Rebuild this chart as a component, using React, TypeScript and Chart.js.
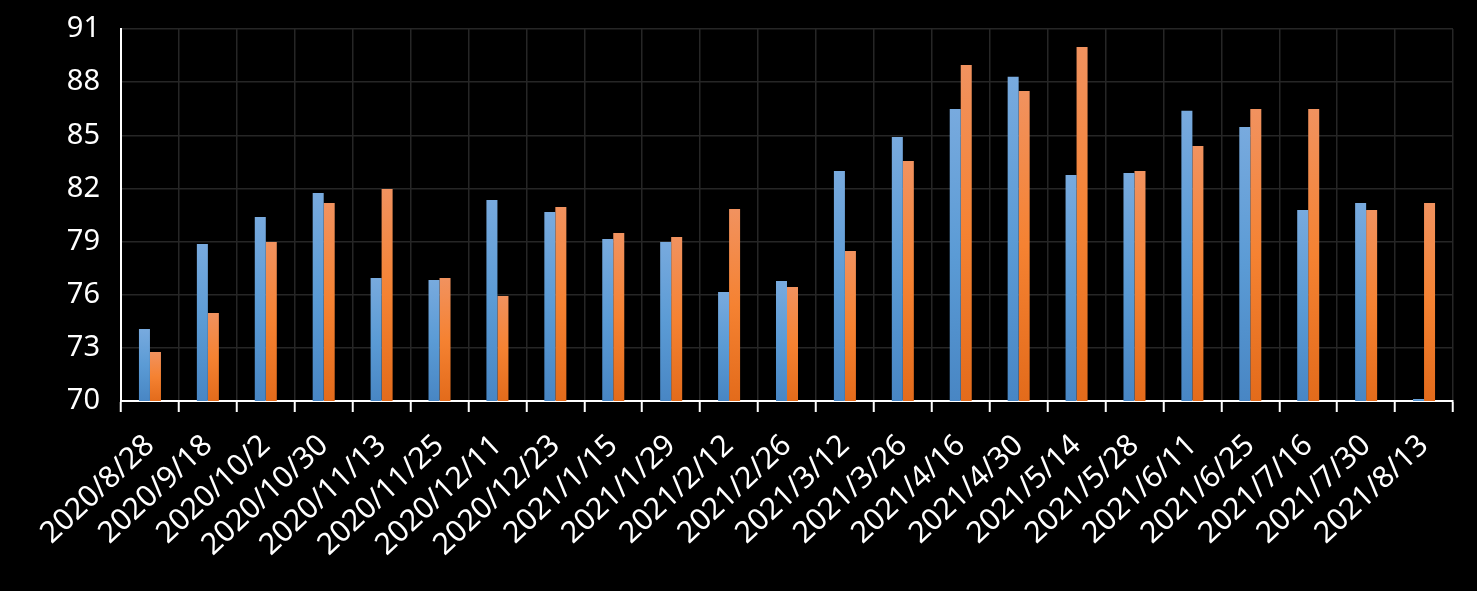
import React, { useEffect, useRef } from "react";
import { Chart, registerables } from "chart.js";

Chart.register(...registerables);

const categories = [
  "2020/8/28", "2020/9/18", "2020/10/2", "2020/10/30", "2020/11/13", "2020/11/25",
  "2020/12/11", "2020/12/23", "2021/1/15", "2021/1/29", "2021/2/12", "2021/2/26",
  "2021/3/12", "2021/3/26", "2021/4/16", "2021/4/30", "2021/5/14", "2021/5/28",
  "2021/6/11", "2021/6/25", "2021/7/16", "2021/7/30", "2021/8/13",
];

const seriesBlue = [
  74.07, 78.86, 80.39, 81.74, 76.95, 76.83, 81.35, 80.67, 79.15, 78.98, 76.15, 76.78,
  82.99, 84.91, 86.49, 88.30, 82.76, 82.87, 86.38, 85.47, 80.78, 81.18, 70.11,
];

const seriesOrange = [
  72.77, 74.97, 78.98, 81.18, 81.97, 76.95, 75.93, 80.95, 79.49, 79.26, 80.84, 76.44,
  78.47, 83.55, 88.97, 87.50, 89.99, 82.99, 84.40, 86.49, 86.49, 80.78, 81.18,
];

const yMin = 70;
const yMax = 91;
const yStep = 3;

const blueStops = ["#78aade", "#5b9bd5", "#4886c4"];
const orangeStops = ["#f1925f", "#f58232", "#e36b1b"];

function gradientFor(stops: string[]) {
  return (ctx: any) => {
    const chart = ctx.chart;
    const yScale = chart.scales?.y;
    if (!chart.chartArea || !yScale || ctx.raw == null) return stops[1];
    const top = yScale.getPixelForValue(ctx.raw);
    const base = yScale.getPixelForValue(yMin);
    if (!isFinite(top) || !isFinite(base) || Math.abs(base - top) < 1) return stops[1];
    const g = chart.ctx.createLinearGradient(0, top, 0, base);
    g.addColorStop(0, stops[0]);
    g.addColorStop(0.5, stops[1]);
    g.addColorStop(1, stops[2]);
    return g;
  };
}

export default function App() {
  const ref = useRef<HTMLCanvasElement | null>(null);

  useEffect(() => {
    document.body.style.margin = "0";
    document.body.style.background = "#000";
    const canvas = ref.current!;
    const family = "'Noto Sans', 'Open Sans', sans-serif";
    const chart = new Chart(canvas, {
      type: "bar",
      data: {
        labels: categories,
        datasets: [
          {
            label: "A",
            data: seriesBlue,
            backgroundColor: gradientFor(blueStops),
            borderWidth: 0,
            categoryPercentage: 0.38,
            barPercentage: 1,
          },
          {
            label: "B",
            data: seriesOrange,
            backgroundColor: gradientFor(orangeStops),
            borderWidth: 0,
            categoryPercentage: 0.38,
            barPercentage: 1,
          },
        ],
      },
      options: {
        animation: false,
        responsive: false,
        devicePixelRatio: 1,
        layout: { padding: { top: 29, right: 24, left: 0, bottom: 0 } },
        plugins: {
          legend: { display: false },
          tooltip: { enabled: false },
        },
        scales: {
          x: {
            grid: {
              color: "#262626",
              lineWidth: 1.5,
              tickColor: "#ffffff",
              tickLength: 11,
              tickWidth: 2,
              offset: true,
            },
            border: { color: "#ffffff", width: 2 },
            ticks: {
              color: "#ffffff",
              font: { family, size: 30 },
              minRotation: 43,
              maxRotation: 43,
              autoSkip: false,
              padding: 16,
            },
            afterFit: (scale: any) => {
              scale.height = 190;
              scale.paddingLeft = 0;
              scale.paddingRight = 0;
            },
          },
          y: {
            min: yMin,
            max: yMax,
            grid: {
              color: "#262626",
              lineWidth: 1.5,
              drawTicks: false,
            },
            border: { color: "#ffffff", width: 2 },
            ticks: {
              color: "#ffffff",
              font: { family, size: 29 },
              stepSize: yStep,
              padding: 21,
            },
            afterFit: (scale: any) => {
              scale.width = 121;
              scale.paddingTop = 0;
              scale.paddingBottom = 0;
            },
          },
        },
      },
    });
    return () => chart.destroy();
  }, []);

  return (
    <div style={{ position: "absolute", left: 0, top: 0, width: 1477, height: 591, background: "#000" }}>
      <canvas ref={ref} width={1477} height={591} style={{ display: "block" }} />
    </div>
  );
}
